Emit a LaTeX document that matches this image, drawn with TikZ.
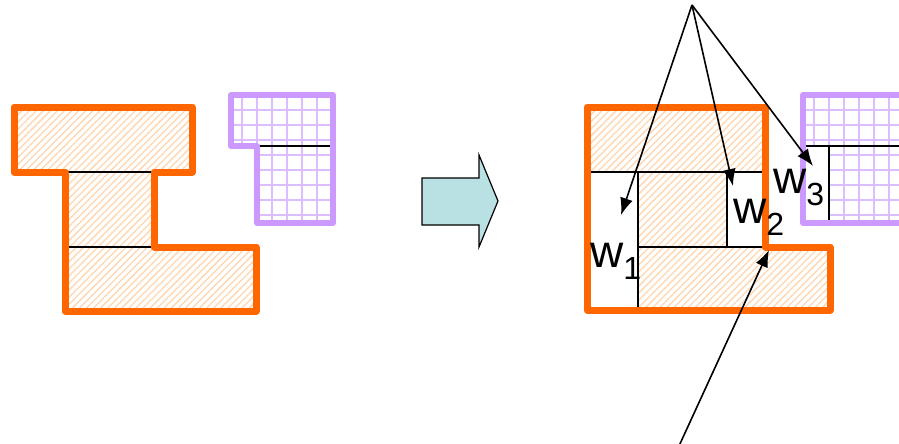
\documentclass[tikz,border=0pt]{standalone}
\usepackage{fontspec}
\setmainfont{Liberation Sans}
\usetikzlibrary{arrows.meta,patterns.meta}

\definecolor{brick}{HTML}{FF6600}
\definecolor{hatchpeach}{HTML}{FFD6B0}
\definecolor{lilac}{HTML}{CC99FF}
\definecolor{lilacgrid}{HTML}{DCBDFF}
\definecolor{shiftfill}{HTML}{B9E1E3}

\tikzset{
  hatched/.style={pattern={Lines[angle=45,distance=5pt,line width=1.3pt]},pattern color=hatchpeach},
  wall/.style={draw=brick,line width=7pt,line join=round},
  purplewall/.style={draw=lilac,line width=6pt,line join=round},
  gridline/.style={draw=lilacgrid,line width=1.6pt},
  seam/.style={draw=black,line width=1.4pt},
  pointer/.style={draw=black,line width=1.6pt,-{Latex[length=17pt,width=13pt]}},
  lbl/.style={inner sep=0pt,anchor=base west,font=\fontsize{46}{46}\selectfont},
}
\newcommand{\lowsub}[1]{\raisebox{-12pt}{\fontsize{32}{32}\selectfont #1}}

\begin{document}
\begin{tikzpicture}[x=1pt,y=-1pt]
\clip (0,0) rectangle (899,444);
\fill[white] (0,0) rectangle (899,444);

% ---------- left: I-shaped block ----------
\path[hatched] (14,107) -- (192,107) -- (192,172) -- (154,172) -- (154,247)
  -- (256,247) -- (256,311) -- (65,311) -- (65,172) -- (14,172) -- cycle;
\draw[seam] (65,172) -- (154,172);
\draw[seam] (65,247) -- (154,247);
\draw[wall] (14,107) -- (192,107) -- (192,172) -- (154,172) -- (154,247)
  -- (256,247) -- (256,311) -- (65,311) -- (65,172) -- (14,172) -- cycle;

% ---------- left: gridded block ----------
\begin{scope}
  \clip (231,95) -- (333,95) -- (333,223) -- (257,223) -- (257,146) -- (231,146) -- cycle;
  \foreach \gx in {242,257,...,332} \draw[gridline] (\gx,90) -- (\gx,230);
  \foreach \gy in {110,125,...,222} \draw[gridline] (225,\gy) -- (340,\gy);
\end{scope}
\draw[seam] (257,146) -- (333,146);
\draw[purplewall] (231,95) -- (333,95) -- (333,223) -- (257,223) -- (257,146) -- (231,146) -- cycle;

% ---------- transition arrow ----------
\draw[fill=shiftfill,line width=1.2pt,line join=miter]
  (422,178) -- (479,178) -- (479,155) -- (498,201) -- (479,247) -- (479,225) -- (422,225) -- cycle;

% ---------- right: partitioned block ----------
\path[hatched] (587,107) rectangle (765,172);
\path[hatched] (638,172) rectangle (727,247);
\path[hatched] (638,247) rectangle (830,310);
\draw[seam] (587,172) -- (765,172);
\draw[seam] (638,172) -- (638,310);
\draw[seam] (727,172) -- (727,247);
\draw[seam] (638,247) -- (765,247);
\draw[wall] (587,107) -- (765,107) -- (765,247) -- (830,247) -- (830,310) -- (587,310) -- cycle;

% ---------- right: gridded block ----------
\begin{scope}
  \clip (803,95) rectangle (930,223);
  \foreach \gx in {814,829,...,920} \draw[gridline] (\gx,90) -- (\gx,230);
  \foreach \gy in {110,125,...,222} \draw[gridline] (798,\gy) -- (930,\gy);
  \fill[white] (806,146) rectangle (829,220);
\end{scope}
\draw[seam] (805,146) -- (930,146);
\draw[seam] (829,146) -- (829,220);
\draw[purplewall] (803,95) -- (930,95) -- (930,223) -- (803,223) -- cycle;

% ---------- labels ----------
\node[lbl] (w1) at (590,267) {w\lowsub{1}};
\node[lbl] (w2) at (733,223) {w\lowsub{2}};
\node[lbl] (w3) at (773,193) {w\lowsub{3}};

% ---------- pointers ----------
\coordinate (apex) at (692,5);
\coordinate (e1) at (621,215);
\coordinate (e2) at (733,186);
\coordinate (e3) at (813,166);
\coordinate (foot) at (679,446);
\coordinate (corner) at (769,250);
\draw[pointer] (apex) -- (e1);
\draw[pointer] (apex) -- (e2);
\draw[pointer] (apex) -- (e3);
\draw[pointer] (foot) -- (corner);
\end{tikzpicture}
\end{document}
